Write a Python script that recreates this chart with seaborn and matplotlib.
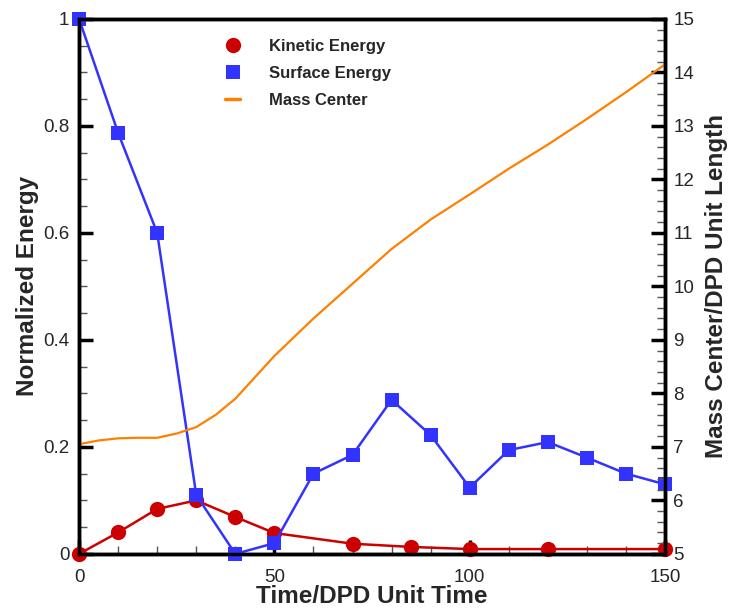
import seaborn as sns
import matplotlib.pyplot as plt
import pandas as pd
from matplotlib.lines import Line2D
from matplotlib.ticker import MultipleLocator, FormatStrFormatter

# Kinetic energy (left axis)
ke_time = [0, 10, 20, 30, 40, 50, 70, 85, 100, 120, 150]
ke_vals = [0.0, 0.040, 0.084, 0.100, 0.069, 0.039, 0.019, 0.013, 0.009, 0.009, 0.009]

# Surface energy (left axis)
se_time = [0, 10, 20, 30, 40, 50, 60, 70, 80, 90, 100, 110, 120, 130, 140, 150]
se_vals = [1.0, 0.787, 0.600, 0.110, 0.0, 0.020, 0.150, 0.185, 0.288, 0.222,
           0.124, 0.194, 0.209, 0.180, 0.150, 0.130]

# Mass center (right axis)
mc_time = [0, 5, 10, 15, 20, 25, 30, 35, 40, 45, 50, 60, 70, 80, 90, 100,
           110, 120, 130, 140, 150]
mc_vals = [7.05, 7.12, 7.16, 7.17, 7.17, 7.25, 7.37, 7.60, 7.90, 8.30, 8.70,
           9.40, 10.05, 10.70, 11.25, 11.72, 12.20, 12.65, 13.13, 13.63, 14.15]

RED = "#CC0000"
BLUE = "#3333FF"
ORANGE = "#FF8000"


def main():
    sns.set_style("white")
    plt.rcParams["font.family"] = ["Liberation Sans", "DejaVu Sans"]

    fig = plt.figure(figsize=(7.32, 6.10), dpi=100)
    ax = fig.add_axes([0.108, 0.092, 0.8005, 0.877])
    ax2 = ax.twinx()

    ke = pd.DataFrame({"t": ke_time, "v": ke_vals})
    se = pd.DataFrame({"t": se_time, "v": se_vals})
    mc = pd.DataFrame({"t": mc_time, "v": mc_vals})

    sns.lineplot(data=ke, x="t", y="v", ax=ax, color=RED, lw=1.8,
                 marker="o", markersize=11, markeredgewidth=0, clip_on=False,
                 zorder=3)
    sns.lineplot(data=se, x="t", y="v", ax=ax, color=BLUE, lw=1.8,
                 marker="s", markersize=10, markeredgewidth=0, clip_on=False,
                 zorder=4)
    sns.lineplot(data=mc, x="t", y="v", ax=ax2, color=ORANGE, lw=1.6)

    ax.set_xlim(0, 150)
    ax.set_ylim(0, 1)
    ax2.set_ylim(5, 15)

    ax.xaxis.set_major_locator(MultipleLocator(50))
    ax.xaxis.set_minor_locator(MultipleLocator(10))
    ax.yaxis.set_major_locator(MultipleLocator(0.2))
    ax.yaxis.set_minor_locator(MultipleLocator(0.05))
    ax.yaxis.set_major_formatter(plt.FuncFormatter(lambda v, p: f"{v:g}"))
    ax2.yaxis.set_major_locator(MultipleLocator(1))
    ax2.yaxis.set_minor_locator(MultipleLocator(0.2))
    ax2.yaxis.set_major_formatter(FormatStrFormatter("%d"))

    for a in (ax, ax2):
        for s in a.spines.values():
            s.set_linewidth(2.5)
            s.set_color("black")
        a.tick_params(which="major", direction="in", length=10, width=2.5,
                      labelsize=13.5, color="black")
        a.tick_params(which="minor", direction="in", length=6, width=1,
                      color="#555555")
    ax.tick_params(axis="y", which="both", left=True, right=False, pad=7)
    ax.tick_params(axis="x", which="both", bottom=True, top=False, pad=11)
    ax2.tick_params(axis="y", which="both", right=True, left=False, pad=6)

    ax.set_xlabel("Time/DPD Unit Time", fontsize=17.5, fontweight="bold",
                  labelpad=-1)
    ax.set_ylabel("Normalized Energy", fontsize=17.5, fontweight="bold",
                  labelpad=3)
    ax2.set_ylabel("Mass Center/DPD Unit Length", fontsize=17.5,
                   fontweight="bold", labelpad=8)

    handles = [
        Line2D([], [], color=RED, marker="o", markersize=11, lw=0,
               markeredgewidth=0),
        Line2D([], [], color=BLUE, marker="s", markersize=10, lw=0,
               markeredgewidth=0),
        Line2D([], [], color=ORANGE, lw=2.5),
    ]
    labels = ["Kinetic Energy", "Surface Energy", "Mass Center"]
    ax2.legend(handles, labels, loc="upper left",
               bbox_to_anchor=(0.224, 0.99), frameon=False,
               prop={"size": 12, "weight": "bold"}, handlelength=0.9,
               handletextpad=1.7, labelspacing=0.72)

    fig.savefig("out.png", dpi=100)


if __name__ == "__main__":
    main()
